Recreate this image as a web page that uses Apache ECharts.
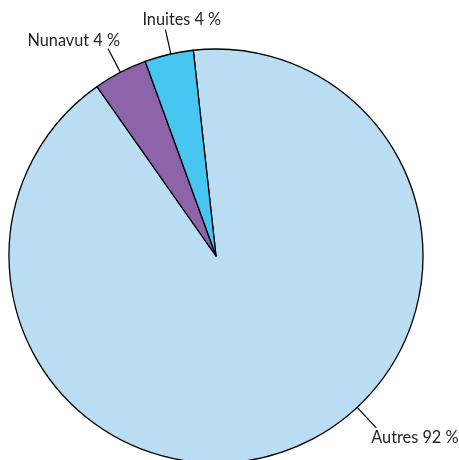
<!DOCTYPE html>
<html>
<head>
<meta charset="utf-8">
<script src="https://cdn.jsdelivr.net/npm/echarts@6/dist/echarts.min.js"></script>
<style>
html,body{margin:0;padding:0;background:#fff;}
#chart{width:459px;height:460px;}
</style>
</head>
<body>
<div id="chart"></div>
<script>
// Data
var categories = ['Autres', 'Nunavut', 'Inuites'];
var values = [92, 4.2, 3.8];
var labelPercents = [92, 4, 4];
var colors = ['#BBDDF4', '#8D63AA', '#47C6F1'];

// Layout (style) settings
var CX = 216, CY = 256, R = 207;
var labelAngles = [137, -27.5, -12.6];   // degrees clockwise from top, where leader lines start
var lineLens = [28, 27, 25];
var textOffsets = [[-5, 10], [12, -8], [-23, -10]];
var textAligns = ['left', 'right', 'left'];

function pt(angleDeg, r) {
  var a = angleDeg * Math.PI / 180;
  return [CX + r * Math.sin(a), CY - r * Math.cos(a)];
}

var chart = echarts.init(document.getElementById('chart'), null, {renderer: 'canvas'});
chart.setOption({
  animation: false,
  backgroundColor: '#ffffff',
  series: [{
    type: 'pie',
    center: [CX, CY],
    radius: R,
    startAngle: 96.3,
    clockwise: true,
    avoidLabelOverlap: false,
    itemStyle: { borderColor: '#000', borderWidth: 1.3 },
    label: {
      show: true,
      color: '#231F20',
      fontFamily: 'Lato',
      fontSize: 16.3,
      formatter: function (p) { return p.name + ' ' + labelPercents[p.dataIndex] + ' %'; }
    },
    labelLine: { show: true, lineStyle: { color: '#000', width: 1.2 } },
    labelLayout: function (params) {
      var i = params.dataIndex;
      var p0 = pt(labelAngles[i], R);
      var p1 = pt(labelAngles[i], R + lineLens[i]);
      return {
        x: p1[0] + textOffsets[i][0],
        y: p1[1] + textOffsets[i][1],
        align: textAligns[i],
        verticalAlign: 'middle',
        labelLinePoints: [p0, p1, p1]
      };
    },
    data: categories.map(function (c, i) {
      return { name: c, value: values[i], itemStyle: { color: colors[i] } };
    })
  }]
});
</script>
</body>
</html>
